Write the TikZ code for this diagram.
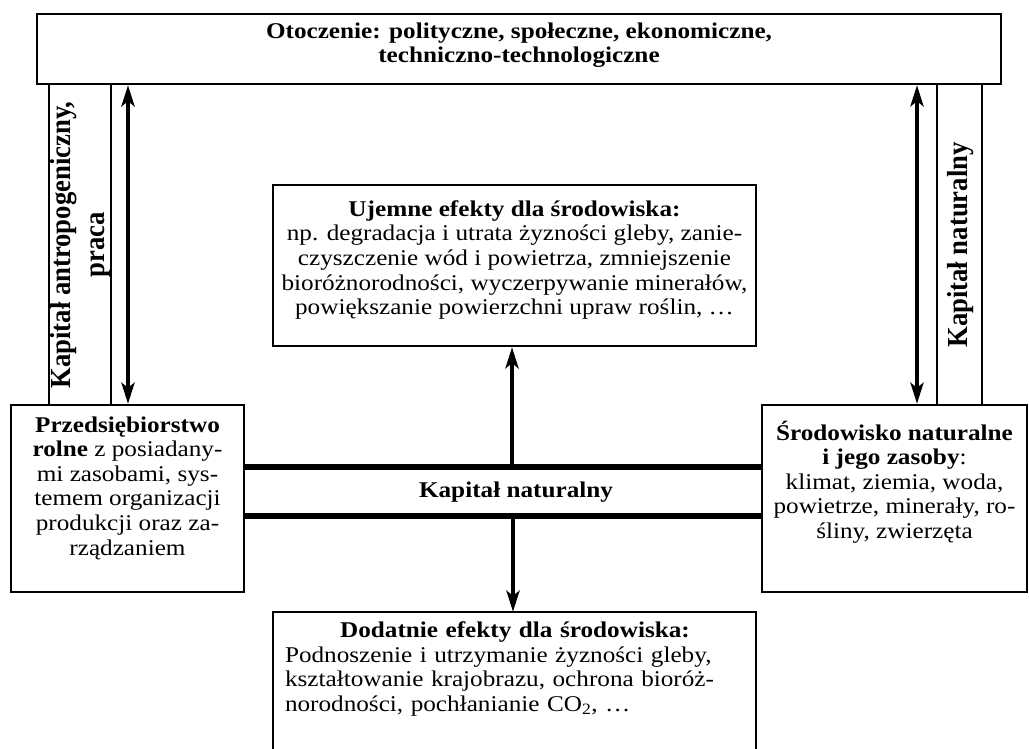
\documentclass[tikz,border=0pt]{standalone}
\usepackage{fontspec}
\setmainfont{Liberation Serif}[FakeStretch=1.12]
\newfontfamily\rotfont{Liberation Serif}[FakeStretch=0.92]
\usetikzlibrary{arrows.meta}
\begin{document}
\begin{tikzpicture}[x=1pt,y=-1pt,
  box/.style={draw,line width=2.4pt,inner sep=0pt},
  blank/.style={inner sep=0pt},
  txt/.style={inner sep=0pt,align=center,font=\fontsize{22.5}{24.6}\selectfont},
  btxt/.style={txt,font=\fontsize{22.5}{24.6}\selectfont\bfseries},
  rtxt/.style={inner sep=0pt,align=center,rotate=90,font=\rotfont\fontsize{29}{34}\selectfont\bfseries},
  dblarrow/.style={line width=4.2pt,{Stealth[length=21pt,width=13pt,inset=5pt]}-{Stealth[length=21pt,width=13pt,inset=5pt]}},
  onearrow/.style={line width=4.2pt,-{Stealth[length=21pt,width=13pt,inset=5pt]}},
  bandline/.style={line width=6pt}
]
\useasboundingbox (0,0) rectangle (1029,748);
\fill[white] (0,0) rectangle (1029,748);

% boxes
\node[box,minimum width=964pt,minimum height=70pt] (top) at (519,49) {};
\node[box,minimum width=62pt,minimum height=321pt] (lstrip) at (80,244.5) {};
\node[box,minimum width=45pt,minimum height=321pt] (rstrip) at (959.5,244.5) {};
\node[box,fill=white,minimum width=233pt,minimum height=187pt] (lbox) at (127.5,498.5) {};
\node[box,fill=white,minimum width=265pt,minimum height=187pt] (rbox) at (894.5,498.5) {};
\node[box,minimum width=483pt,minimum height=161pt] (neg) at (514.5,265.5) {};
\node[blank,minimum width=483pt,minimum height=140pt] (pos) at (514.5,682) {};
\draw[line width=2.4pt] (pos.south west) |- (pos.north east) -- (pos.south east);
\node[blank,minimum width=518pt,minimum height=49pt] (band) at (503,491.5) {};
\draw[bandline] (band.north west) -- (band.north east);
\draw[bandline] (band.south west) -- (band.south east);

% texts
\node[btxt] (toptxt) at (519,45)
  {Otoczenie: polityczne, społeczne, ekonomiczne,\\techniczno-technologiczne};
\node[rtxt] (ltxt) at (81,245)
  {Kapitał antropogeniczny,\\praca};
\node[rtxt] (rtxt) at (961,245)
  {Kapitał naturalny};
\node[txt] (lboxtxt) at (127.5,488)
  {\textbf{Przedsiębiorstwo}\\\textbf{rolne} z posiadany-\\mi zasobami, sys-\\temem organizacji\\produkcji oraz za-\\rządzaniem};
\node[txt] (rboxtxt) at (894.5,482)
  {\textbf{Środowisko naturalne}\\\textbf{i jego zasoby}:\\klimat, ziemia, woda,\\powietrze, minerały, ro-\\śliny, zwierzęta};
\node[txt] (negtxt) at (514.5,260)
  {\textbf{Ujemne efekty dla środowiska:}\\np. degradacja i utrata żyzności gleby, zanie-\\czyszczenie wód i powietrza, zmniejszenie\\bioróżnorodności, wyczerpywanie minerałów,\\powiększanie powierzchni upraw roślin, …};
\node[txt,align=left,text width=460pt] (postxt) at (515,669)
  {\makebox[460pt][c]{\textbf{Dodatnie efekty dla środowiska:}}\\
   \makebox[460pt][s]{Podnoszenie i utrzymanie żyzności gleby,}\\
   \makebox[460pt][s]{kształtowanie krajobrazu, ochrona bioróż-}\\
   norodności, pochłanianie CO\textsubscript{2}, …};
\node[btxt] (bandtxt) at (516,492) {Kapitał naturalny};

% arrows
\coordinate (la) at (128,0);
\coordinate (ra) at (917,0);
\coordinate (ca) at (512,0);
\coordinate (cb) at (513,0);
\draw[dblarrow] (top.south -| la) -- (lbox.north -| la);
\draw[dblarrow] (top.south -| ra) -- (rbox.north -| ra);
\draw[onearrow] (band.north -| ca) -- (neg.south -| ca);
\draw[onearrow] (band.south -| cb) -- (pos.north -| cb);
\end{tikzpicture}
\end{document}
